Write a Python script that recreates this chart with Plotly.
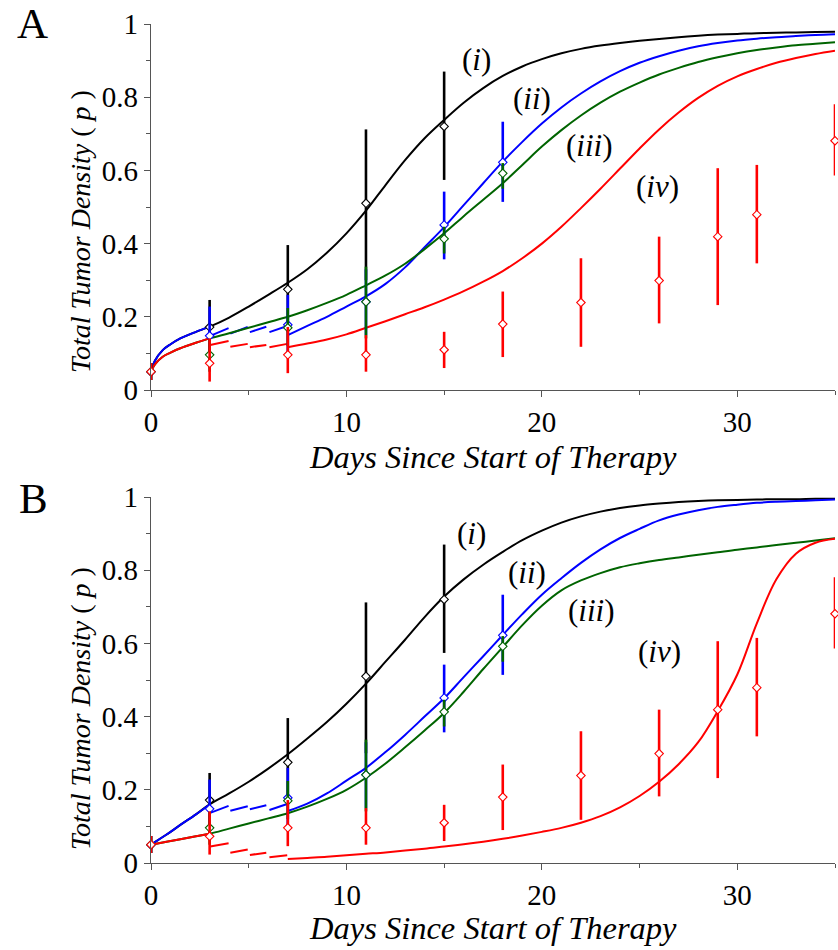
import plotly.graph_objects as go

# ---------------- data ----------------
# model-curve sample times
t_pre = [0, 0.2, 0.6, 1, 1.5, 2.3, 3]
t_mid = [4, 5, 6]
t_post = [7, 8, 9, 10, 11, 12, 13, 14, 15, 16, 17, 18, 19, 20, 21, 22, 23, 24,
          25, 26, 27, 28, 29, 30, 31, 32, 33, 34, 35]
t_seg = [3.03, 3.97, None, 4.06, 4.95, None, 5.06, 5.9, None, 6.06, 6.97]

# Panel A curves
A_black = ([0.05, 0.08, 0.109, 0.125, 0.141, 0.159, 0.173] + [0.198, 0.228, 0.26] +
           [0.293, 0.33, 0.375, 0.428, 0.49, 0.56, 0.628, 0.688, 0.738, 0.785, 0.825,
            0.858, 0.884, 0.904, 0.92, 0.932, 0.941, 0.948, 0.954, 0.959, 0.964, 0.968,
            0.971, 0.973, 0.975, 0.976, 0.977, 0.978, 0.979])
A_blue_pre = [0.05, 0.08, 0.109, 0.125, 0.141, 0.159, 0.173]
A_blue_seg = [0.148, 0.169, None, 0.154, 0.172, None, 0.158, 0.173, None, 0.158, 0.175]
A_blue_post = [0.150, 0.175, 0.20, 0.228, 0.256, 0.29, 0.335, 0.39, 0.445, 0.505, 0.565,
               0.624, 0.678, 0.728, 0.772, 0.81, 0.843, 0.871, 0.894, 0.912, 0.927,
               0.939, 0.948, 0.955, 0.96, 0.964, 0.967, 0.97, 0.972]
A_green = ([0.05, 0.07, 0.091, 0.102, 0.114, 0.129, 0.141] + [0.155, 0.17, 0.185] +
           [0.20, 0.218, 0.238, 0.26, 0.286, 0.313, 0.345, 0.385, 0.428, 0.475, 0.52,
            0.565, 0.615, 0.665, 0.71, 0.75, 0.785, 0.815, 0.84, 0.862, 0.88, 0.896,
            0.909, 0.92, 0.929, 0.936, 0.942, 0.946, 0.95])
A_red_pre = [0.05, 0.07, 0.091, 0.102, 0.114, 0.129, 0.141]
A_red_seg = [0.123, 0.134, None, 0.118, 0.126, None, 0.117, 0.123, None, 0.117, 0.126]
A_red_post = [0.117, 0.127, 0.138, 0.152, 0.17, 0.188, 0.207, 0.226, 0.247, 0.27, 0.296,
              0.325, 0.36, 0.40, 0.446, 0.497, 0.55, 0.605, 0.66, 0.712, 0.758, 0.798,
              0.831, 0.857, 0.877, 0.894, 0.907, 0.918, 0.927]

# Panel B curves
B_black = ([0.05, 0.057, 0.071, 0.085, 0.104, 0.133, 0.16] + [0.19, 0.222, 0.258] +
           [0.297, 0.34, 0.385, 0.435, 0.49, 0.55, 0.61, 0.672, 0.728, 0.775, 0.815,
            0.85, 0.882, 0.908, 0.93, 0.947, 0.96, 0.97, 0.977, 0.982, 0.986, 0.989,
            0.991, 0.992, 0.993, 0.994, 0.994, 0.995, 0.995])
B_blue_pre = [0.05, 0.057, 0.071, 0.085, 0.104, 0.133, 0.16]
B_blue_seg = [0.137, 0.156, None, 0.143, 0.155, None, 0.147, 0.158, None, 0.145, 0.161]
B_blue_post = [0.142, 0.162, 0.19, 0.225, 0.26, 0.303, 0.35, 0.40, 0.45, 0.508, 0.565,
               0.623, 0.68, 0.733, 0.778, 0.82, 0.857, 0.888, 0.913, 0.936, 0.952,
               0.964, 0.973, 0.979, 0.984, 0.987, 0.989, 0.991, 0.993]
B_green = ([0.05, 0.052, 0.056, 0.06, 0.065, 0.073, 0.08] + [0.094, 0.108, 0.122] +
           [0.136, 0.154, 0.175, 0.2, 0.233, 0.272, 0.316, 0.362, 0.41, 0.468, 0.53,
            0.59, 0.65, 0.703, 0.745, 0.772, 0.792, 0.808, 0.819, 0.828, 0.835, 0.842,
            0.849, 0.856, 0.862, 0.869, 0.875, 0.881, 0.887])
B_red_pre = [0.05, 0.052, 0.056, 0.06, 0.065, 0.073, 0.08]
B_red_seg = [0.045, 0.054, None, 0.028, 0.037, None, 0.022, 0.028, None, 0.016, 0.021]
B_red_post = [0.011, 0.014, 0.017, 0.021, 0.025, 0.029, 0.034, 0.039, 0.045, 0.051,
              0.058, 0.066, 0.075, 0.085, 0.096, 0.11, 0.128, 0.152, 0.183, 0.222,
              0.27, 0.33, 0.415, 0.515, 0.655, 0.775, 0.845, 0.875, 0.886]

# experimental data (same in both panels)
black_days = [0, 3, 7, 11, 15]
black_val = [0.05, 0.172, 0.275, 0.51, 0.72]
black_hi = [0.074, 0.246, 0.396, 0.712, 0.87]
black_lo = [0.027, 0.09, 0.17, 0.30, 0.574]

blue_days = [0, 3, 7, 11, 15, 18]
blue_val = [0.05, 0.148, 0.178, 0.241, 0.451, 0.622]
blue_hi = [0.074, 0.228, 0.26, 0.33, 0.542, 0.733]
blue_lo = [0.027, 0.08, 0.10, 0.15, 0.357, 0.514]

green_days = [0, 3, 7, 11, 15, 18]
green_val = [0.05, 0.096, 0.17, 0.241, 0.413, 0.592]
green_hi = [0.074, 0.14, 0.224, 0.337, 0.446, 0.62]
green_lo = [0.027, 0.05, 0.12, 0.141, 0.373, 0.55]

red_days = [0, 3, 7, 11, 15, 18, 22, 26, 29, 31, 35]
red_val = [0.05, 0.073, 0.096, 0.096, 0.11, 0.18, 0.239, 0.299, 0.419, 0.479, 0.681]
red_hi = [0.074, 0.141, 0.172, 0.15, 0.159, 0.269, 0.36, 0.419, 0.606, 0.615, 0.781]
red_lo = [0.027, 0.023, 0.046, 0.05, 0.06, 0.09, 0.118, 0.182, 0.232, 0.346, 0.586]

curve_labels = ["(<i>i</i>)", "(<i>ii</i>)", "(<i>iii</i>)", "(<i>iv</i>)"]
A_label_x = [16.65, 19.5, 22.45, 25.9]
A_label_y = [0.904, 0.797, 0.669, 0.556]
B_label_x = [16.4, 19.25, 22.54, 26.04]
B_label_y = [0.899, 0.794, 0.689, 0.577]

x_ticks = [0, 10, 20, 30]
y_ticks = [0, 0.2, 0.4, 0.6, 0.8, 1]
y_tick_text = ["0", "0.2", "0.4", "0.6", "0.8", "1"]

# ---------------- styling ----------------
BLACK, BLUE, GREEN, RED = "#000000", "#0000ff", "#006400", "#ff0000"
FONT = "Liberation Serif"
t_cont = t_pre + t_mid + t_post
t_jump = t_pre + [None] + t_seg + [None] + t_post

fig = go.Figure()


def add_panel(xa, ya, black, blue_pre, blue_seg, blue_post, green, red_pre, red_seg, red_post):
    curves = [
        (t_cont, black, BLACK),
        (t_jump, blue_pre + [None] + blue_seg + [None] + blue_post, BLUE),
        (t_cont, green, GREEN),
        (t_jump, red_pre + [None] + red_seg + [None] + red_post, RED),
    ]
    for tx, ty, col in curves:
        fig.add_trace(go.Scatter(x=tx, y=ty, mode="lines", xaxis=xa, yaxis=ya,
                                 line=dict(color=col, width=2, shape="spline", smoothing=1.0),
                                 connectgaps=False, showlegend=False, hoverinfo="skip"))
    datasets = [
        (black_days, black_val, black_hi, black_lo, BLACK),
        (blue_days, blue_val, blue_hi, blue_lo, BLUE),
        (green_days, green_val, green_hi, green_lo, GREEN),
        (red_days, red_val, red_hi, red_lo, RED),
    ]
    for dx, dv, dh, dl, col in datasets:
        fig.add_trace(go.Scatter(
            x=dx, y=dv, mode="markers", xaxis=xa, yaxis=ya, showlegend=False,
            marker=dict(symbol="diamond", size=6.5, color="white",
                        line=dict(color=col, width=1.1)),
            error_y=dict(type="data", symmetric=False,
                         array=[h - v for h, v in zip(dh, dv)],
                         arrayminus=[v - l for v, l in zip(dv, dl)],
                         color=col, thickness=2.6, width=0),
            cliponaxis=False))


add_panel("x", "y", A_black, A_blue_pre, A_blue_seg, A_blue_post, A_green,
          A_red_pre, A_red_seg, A_red_post)
add_panel("x2", "y2", B_black, B_blue_pre, B_blue_seg, B_blue_post, B_green,
          B_red_pre, B_red_seg, B_red_post)

AX = "#555555"
xcommon = dict(range=[0, 35], tickvals=x_ticks, showline=True, linecolor=AX, linewidth=1.3,
               ticks="outside", ticklen=6, tickwidth=1.3, tickcolor=AX, automargin=False,
               minor=dict(ticks="outside", dtick=5, ticklen=4, tickwidth=1.2, tickcolor=AX),
               showgrid=False, zeroline=False, tickfont=dict(family=FONT, size=29, color="black"))
ycommon = dict(range=[0, 1], tickvals=y_ticks, ticktext=y_tick_text, showline=True,
               linecolor=AX, linewidth=1.3, ticks="outside", ticklen=6, tickwidth=1.3,
               tickcolor=AX, automargin=False,
               minor=dict(ticks="outside", dtick=0.1, ticklen=4, tickwidth=1.2, tickcolor=AX),
               showgrid=False, zeroline=False, tickfont=dict(family=FONT, size=29, color="black"))

topA = 1.0
botA = (863 - 390) / 839
topB = (863 - 497) / 839

fig.update_layout(
    width=838, height=950,
    margin=dict(l=151, r=3, t=24, b=87),
    paper_bgcolor="white", plot_bgcolor="white",
    font=dict(family=FONT),
    xaxis=dict(domain=[0, 1], anchor="y", **xcommon),
    yaxis=dict(domain=[botA, topA], anchor="x", **ycommon),
    xaxis2=dict(domain=[0, 1], anchor="y2", **xcommon),
    yaxis2=dict(domain=[0, topB], anchor="x2", **ycommon),
)

annos = []
for lab, lx, ly in zip(curve_labels, A_label_x, A_label_y):
    annos.append(dict(x=lx, y=ly, xref="x", yref="y", text=lab, showarrow=False,
                      font=dict(family=FONT, size=31, color="black")))
for lab, lx, ly in zip(curve_labels, B_label_x, B_label_y):
    annos.append(dict(x=lx, y=ly, xref="x2", yref="y2", text=lab, showarrow=False,
                      font=dict(family=FONT, size=31, color="black")))

ytitle = "<i>Total Tumor Density</i> ( <i>p</i> )"
xtitle = "<i>Days Since Start of Therapy</i>"
for yc in [(863 - 232) / 839, (863 - 709) / 839]:
    annos.append(dict(x=0, y=yc, xref="paper", yref="paper", text=ytitle, textangle=-90,
                      showarrow=False, xanchor="center", yanchor="middle", xshift=-71,
                      font=dict(family=FONT, size=28, color="black")))
for yc in [(863 - 457) / 839, (863 - 928) / 839]:
    annos.append(dict(x=0.5, y=yc, xref="paper", yref="paper", text=xtitle,
                      showarrow=False, xanchor="center", yanchor="middle",
                      font=dict(family=FONT, size=32.5, color="black")))
# panel letters: anchored at the top edge of the figure / just under panel A
annos.append(dict(x=0, y=(863 + 2) / 839, xref="paper", yref="paper", text="A",
                  showarrow=False, xanchor="center", yanchor="top", xshift=32 - 151,
                  font=dict(family=FONT, size=43, color="black")))
annos.append(dict(x=0, y=(863 - 498) / 839, xref="paper", yref="paper", text="B",
                  showarrow=False, xanchor="center", yanchor="middle", xshift=33 - 151,
                  font=dict(family=FONT, size=43, color="black")))
fig.update_layout(annotations=annos)

fig.write_html("out.html", config={"displayModeBar": False},
               post_script="document.body.style.margin='0px';document.body.style.padding='0px';")
